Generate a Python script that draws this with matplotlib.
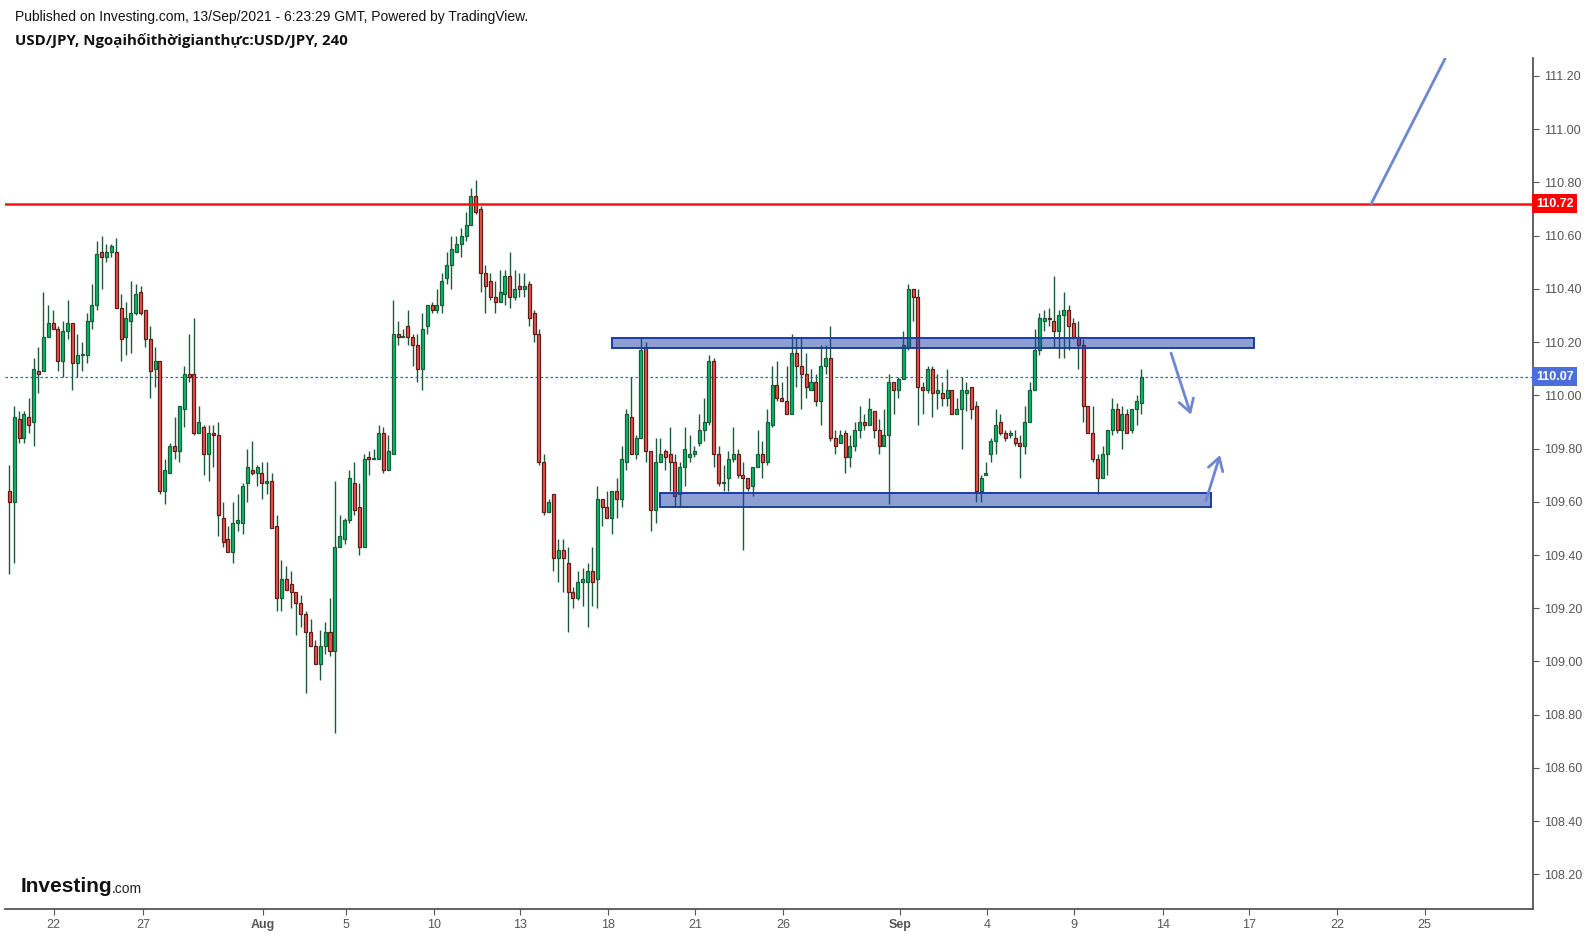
import numpy as np
import matplotlib
matplotlib.use("Agg")
import matplotlib.pyplot as plt
from matplotlib.patches import Rectangle
from matplotlib.transforms import blended_transform_factory

# USD/JPY 4h candles, bar index 0..233
opens = [109.64, 109.60, 109.91, 109.84, 109.92, 109.90, 110.09, 110.09, 110.22, 110.27,
         110.25, 110.13, 110.24, 110.27, 110.12, 110.15, 110.15, 110.28, 110.34, 110.54,
         110.52, 110.54, 110.54, 110.33, 110.22, 110.28, 110.31, 110.39, 110.32, 110.21,
         110.10, 110.13, 109.64, 109.71, 109.81, 109.79, 109.95, 110.08, 110.08, 109.86,
         109.88, 109.78, 109.86, 109.85, 109.54, 109.46, 109.41, 109.52, 109.52, 109.67,
         109.72, 109.71, 109.71, 109.67, 109.68, 109.51, 109.24, 109.31, 109.29, 109.26,
         109.22, 109.18, 109.11, 109.06, 108.99, 109.06, 109.11, 109.04, 109.43, 109.46,
         109.53, 109.67, 109.58, 109.43, 109.77, 109.76, 109.76, 109.86, 109.72, 109.78,
         110.23, 110.22, 110.26, 110.22, 110.19, 110.10, 110.26, 110.34, 110.32, 110.34,
         110.44, 110.49, 110.54, 110.57, 110.60, 110.64, 110.75, 110.70, 110.46, 110.43,
         110.37, 110.35, 110.38, 110.45, 110.37, 110.41, 110.40, 110.42, 110.31, 110.23,
         109.75, 109.56, 109.63, 109.39, 109.42, 109.37, 109.26, 109.24, 109.30, 109.30,
         109.34, 109.31, 109.61, 109.58, 109.54, 109.64, 109.61, 109.75, 109.92, 109.78,
         109.84, 110.18, 109.79, 109.57, 109.75, 109.79, 109.78, 109.75, 109.63, 109.73,
         109.77, 109.78, 109.82, 109.87, 109.90, 110.13, 109.78, 109.67, 109.69, 109.76,
         109.78, 109.70, 109.69, 109.66, 109.73, 109.78, 109.75, 109.89, 110.04, 109.99,
         109.98, 109.93, 110.16, 110.11, 110.08, 110.02, 110.05, 109.98, 110.11, 110.14,
         109.84, 109.82, 109.86, 109.77, 109.81, 109.87, 109.90, 109.89, 109.94, 109.87,
         109.81, 109.85, 110.05, 110.02, 110.06, 110.18, 110.40, 110.37, 110.03, 110.02,
         110.10, 110.01, 110.01, 109.99, 110.02, 109.93, 109.95, 110.01, 110.03, 109.96,
         109.64, 109.70, 109.78, 109.83, 109.90, 109.86, 109.85, 109.84, 109.82, 109.81,
         109.90, 110.02, 110.17, 110.28, 110.29, 110.28, 110.24, 110.30, 110.32, 110.27,
         110.22, 110.19, 109.96, 109.86, 109.76, 109.69, 109.78, 109.87, 109.95, 109.87,
         109.93, 109.87, 109.95, 109.97]
highs = [109.74, 109.96, 109.94, 109.94, 109.99, 110.14, 110.18, 110.39, 110.34, 110.32,
         110.26, 110.28, 110.36, 110.27, 110.23, 110.20, 110.31, 110.42, 110.58, 110.60,
         110.57, 110.57, 110.59, 110.38, 110.35, 110.43, 110.42, 110.41, 110.32, 110.26,
         110.18, 110.13, 109.76, 109.82, 109.92, 109.96, 110.11, 110.23, 110.29, 109.96,
         109.89, 109.89, 109.89, 109.90, 109.60, 109.51, 109.60, 109.63, 109.67, 109.80,
         109.83, 109.74, 109.75, 109.75, 109.71, 109.55, 109.38, 109.36, 109.34, 109.26,
         109.25, 109.19, 109.16, 109.08, 109.12, 109.15, 109.24, 109.68, 109.55, 109.54,
         109.72, 109.75, 109.67, 109.78, 109.79, 109.80, 109.89, 109.88, 109.85, 110.36,
         110.28, 110.25, 110.32, 110.23, 110.23, 110.31, 110.34, 110.35, 110.40, 110.46,
         110.54, 110.60, 110.60, 110.63, 110.69, 110.78, 110.81, 110.71, 110.49, 110.46,
         110.43, 110.47, 110.47, 110.54, 110.47, 110.46, 110.46, 110.43, 110.32, 110.25,
         109.78, 109.61, 109.63, 109.46, 109.46, 109.43, 109.28, 109.34, 109.35, 109.37,
         109.43, 109.66, 109.61, 109.64, 109.64, 109.69, 109.81, 109.95, 110.07, 109.85,
         110.22, 110.20, 109.79, 109.84, 109.84, 109.80, 109.88, 109.78, 109.75, 109.88,
         109.85, 109.81, 109.93, 109.99, 110.15, 110.14, 109.81, 109.74, 109.79, 109.88,
         109.80, 109.75, 109.69, 109.73, 109.87, 109.83, 109.95, 110.11, 110.13, 110.05,
         110.11, 110.23, 110.22, 110.22, 110.16, 110.10, 110.08, 110.19, 110.19, 110.26,
         109.87, 109.87, 109.87, 109.85, 109.90, 109.96, 109.93, 109.99, 109.94, 109.91,
         109.95, 110.08, 110.05, 110.07, 110.24, 110.42, 110.40, 110.40, 110.05, 110.11,
         110.11, 110.08, 110.05, 110.10, 110.02, 109.99, 110.07, 110.05, 110.03, 109.98,
         109.70, 109.75, 109.84, 109.95, 109.93, 109.87, 109.87, 109.87, 109.85, 109.96,
         110.05, 110.25, 110.31, 110.32, 110.33, 110.45, 110.32, 110.39, 110.34, 110.29,
         110.28, 110.21, 109.96, 109.96, 109.78, 109.81, 109.87, 109.99, 109.97, 109.96,
         109.95, 109.95, 110.00, 110.10]
lows = [109.33, 109.37, 109.82, 109.82, 109.86, 109.81, 110.01, 110.09, 110.22, 110.25,
        110.09, 110.07, 110.21, 110.02, 110.07, 110.09, 110.12, 110.25, 110.32, 110.40,
        110.50, 110.52, 110.33, 110.13, 110.15, 110.16, 110.30, 110.30, 110.18, 109.99,
        110.03, 109.63, 109.59, 109.71, 109.76, 109.75, 109.88, 110.05, 109.85, 109.86,
        109.70, 109.68, 109.73, 109.47, 109.43, 109.41, 109.37, 109.49, 109.48, 109.60,
        109.70, 109.66, 109.61, 109.63, 109.50, 109.19, 109.19, 109.27, 109.20, 109.10,
        109.13, 108.88, 109.06, 108.99, 108.93, 109.03, 109.02, 108.73, 109.43, 109.44,
        109.52, 109.55, 109.40, 109.43, 109.70, 109.76, 109.76, 109.71, 109.72, 109.78,
        110.19, 110.22, 110.19, 110.11, 110.05, 110.02, 110.23, 110.31, 110.31, 110.31,
        110.42, 110.40, 110.54, 110.52, 110.58, 110.64, 110.68, 110.39, 110.31, 110.36,
        110.31, 110.35, 110.34, 110.33, 110.36, 110.37, 110.37, 110.26, 110.20, 109.74,
        109.55, 109.56, 109.34, 109.30, 109.26, 109.11, 109.20, 109.23, 109.21, 109.13,
        109.21, 109.20, 109.51, 109.54, 109.48, 109.54, 109.58, 109.72, 109.78, 109.76,
        109.84, 109.75, 109.49, 109.52, 109.75, 109.72, 109.64, 109.58, 109.58, 109.66,
        109.75, 109.77, 109.81, 109.83, 109.89, 109.73, 109.66, 109.64, 109.64, 109.75,
        109.69, 109.42, 109.64, 109.62, 109.73, 109.69, 109.74, 109.88, 109.98, 109.98,
        109.93, 109.93, 110.03, 109.95, 109.99, 110.02, 109.96, 109.89, 110.08, 109.83,
        109.78, 109.82, 109.71, 109.73, 109.79, 109.84, 109.87, 109.89, 109.84, 109.78,
        109.81, 109.59, 109.93, 109.99, 110.06, 110.17, 110.28, 109.89, 109.93, 110.01,
        109.92, 109.95, 109.96, 109.96, 109.93, 109.93, 109.80, 109.94, 109.91, 109.60,
        109.60, 109.70, 109.75, 109.78, 109.85, 109.83, 109.84, 109.81, 109.69, 109.78,
        109.90, 110.02, 110.15, 110.24, 110.26, 110.18, 110.14, 110.14, 110.17, 110.21,
        110.10, 109.90, 109.86, 109.75, 109.63, 109.69, 109.70, 109.85, 109.86, 109.80,
        109.86, 109.86, 109.89, 109.93]
closes = [109.60, 109.92, 109.84, 109.93, 109.89, 110.10, 110.08, 110.22, 110.27, 110.25,
          110.13, 110.24, 110.27, 110.12, 110.15, 110.152, 110.28, 110.34, 110.53, 110.52,
          110.54, 110.56, 110.33, 110.21, 110.29, 110.31, 110.38, 110.31, 110.21, 110.09,
          110.13, 109.64, 109.72, 109.81, 109.79, 109.96, 110.08, 110.07, 109.86, 109.90,
          109.78, 109.86, 109.85, 109.55, 109.45, 109.41, 109.52, 109.53, 109.66, 109.73,
          109.71, 109.73, 109.67, 109.68, 109.50, 109.24, 109.31, 109.27, 109.26, 109.22,
          109.18, 109.11, 109.06, 108.99, 109.06, 109.11, 109.04, 109.43, 109.47, 109.53,
          109.69, 109.57, 109.43, 109.76, 109.76, 109.762, 109.86, 109.72, 109.79, 110.23,
          110.22, 110.222, 110.22, 110.19, 110.10, 110.25, 110.34, 110.32, 110.34, 110.43,
          110.49, 110.55, 110.57, 110.60, 110.64, 110.75, 110.69, 110.46, 110.41, 110.37,
          110.35, 110.39, 110.45, 110.37, 110.40, 110.40, 110.41, 110.29, 110.23, 109.75,
          109.56, 109.60, 109.39, 109.42, 109.39, 109.26, 109.24, 109.30, 109.31, 109.34,
          109.30, 109.61, 109.58, 109.54, 109.64, 109.61, 109.76, 109.93, 109.78, 109.84,
          110.17, 109.79, 109.57, 109.75, 109.78, 109.77, 109.75, 109.62, 109.73, 109.80,
          109.78, 109.79, 109.87, 109.90, 110.13, 109.78, 109.67, 109.672, 109.76, 109.78,
          109.70, 109.69, 109.65, 109.73, 109.78, 109.75, 109.90, 110.04, 109.99, 109.98,
          109.93, 110.16, 110.11, 110.08, 110.03, 110.05, 109.98, 110.11, 110.14, 109.84,
          109.81, 109.85, 109.77, 109.81, 109.87, 109.90, 109.89, 109.95, 109.87, 109.81,
          109.85, 110.05, 110.02, 110.06, 110.19, 110.40, 110.37, 110.03, 110.02, 110.10,
          110.01, 110.02, 109.99, 110.02, 109.93, 109.95, 110.02, 110.02, 109.95, 109.64,
          109.69, 109.71, 109.83, 109.89, 109.86, 109.84, 109.86, 109.82, 109.81, 109.90,
          110.02, 110.17, 110.29, 110.29, 110.285, 110.24, 110.30, 110.32, 110.26, 110.22,
          110.19, 109.96, 109.86, 109.76, 109.69, 109.78, 109.87, 109.95, 109.87, 109.93,
          109.86, 109.95, 109.98, 110.07]

# date ticks (bar-index positions) and price ticks
tick_pos = [9.1, 27.5, 52.2, 69.2, 87.4, 105.2, 123.3, 141.1, 159.2, 183.3, 201.2,
            219.2, 237.4, 255.1, 273.3, 291.3]
tick_labels = ['22', '27', 'Aug', '5', '10', '13', '18', '21', '26', 'Sep', '4',
               '9', '14', '17', '22', '25']
price_ticks = np.arange(108.2, 111.21, 0.2)

# drawings
resistance = 110.72
last_price = 110.07
upper_zone = (124.1, 256.1, 110.177, 110.214)   # x0, x1, y0, y1
lower_zone = (134.0, 247.3, 109.580, 109.632)
down_arrow = ((239.1, 110.159), (243.2, 109.927))
up_arrow = ((246.3, 109.605), (249.2, 109.776))
trend_line = ((280.3, 110.72), (295.5, 111.265))

W, H = 1585, 934
fig = plt.figure(figsize=(W / 100, H / 100), dpi=100)
ax = fig.add_axes([5 / W, 25 / H, (1533 - 5) / W, (909 - 57.6) / H])

o = np.array(opens)
h = np.array(highs)
l = np.array(lows)
c = np.array(closes)
x = np.arange(len(o))
up = c >= o

wick_col = '#1d5a3a'
ax.vlines(x, l, h, color=wick_col, linewidth=1.0, zorder=2)
bottom = np.minimum(o, c)
height = np.maximum(np.abs(c - o), 0.004)
ax.bar(x[up], height[up], bottom=bottom[up], width=0.62, color='#00c06a',
       edgecolor='#1d5a3a', linewidth=0.9, zorder=3)
ax.bar(x[~up], height[~up], bottom=bottom[~up], width=0.62, color='#f0524a',
       edgecolor='#5e1d18', linewidth=0.9, zorder=3)

# horizontal lines
ax.axhline(resistance, color='#ff1010', linewidth=1.8, zorder=4)
ax.axhline(last_price, color='#3a5fd0', linewidth=0.9, linestyle=(0, (2, 2)), zorder=1)

# zones
for x0, x1, y0, y1 in [upper_zone, lower_zone]:
    ax.add_patch(Rectangle((x0, y0), x1 - x0, y1 - y0, facecolor=(0.12, 0.25, 0.68, 0.5),
                           edgecolor='#1a3ea0', linewidth=1.4, zorder=5))

arrow_col = '#6d88d0'
for start, end in [down_arrow, up_arrow]:
    ax.annotate('', xy=end, xytext=start,
                arrowprops=dict(arrowstyle='->,head_length=0.5,head_width=0.3', color=arrow_col,
                                lw=2, mutation_scale=18, shrinkA=0, shrinkB=0), zorder=6)
ax.plot([trend_line[0][0], trend_line[1][0]], [trend_line[0][1], trend_line[1][1]],
        color=arrow_col, linewidth=2, zorder=6, solid_capstyle='round')

ax.set_xlim(-0.89, 313.6)
ax.set_ylim(108.07, 111.269)

# axes styling
for s in ['top', 'left']:
    ax.spines[s].set_visible(False)
for s in ['bottom', 'right']:
    ax.spines[s].set_color('#555555')
    ax.spines[s].set_linewidth(1.3)
ax.yaxis.tick_right()
ax.set_yticks(price_ticks)
ax.set_yticklabels(['%.2f' % p for p in price_ticks])
ax.set_xticks(tick_pos)
ax.set_xticklabels(tick_labels)
ax.tick_params(axis='y', length=4, color='#555555', labelcolor='#555555', labelsize=9,
               pad=4)
ax.tick_params(axis='x', length=4, color='#555555', labelcolor='#555555', labelsize=9,
               pad=3)
for t in ax.get_xticklabels():
    t.set_fontfamily('Liberation Sans')
    if t.get_text() in ('Aug', 'Sep'):
        t.set_fontweight('bold')
for t in ax.get_yticklabels():
    t.set_fontfamily('Liberation Sans')

# price labels on the axis
trans = blended_transform_factory(ax.transAxes, ax.transData)
ax.text(1.002, resistance, '110.72', transform=trans, ha='left', va='center', color='white',
        fontsize=9, fontweight='bold', family='Liberation Sans',
        bbox=dict(boxstyle='square,pad=0.3', facecolor='#ff0000', edgecolor='none'))
ax.text(1.002, last_price, '110.07', transform=trans, ha='left', va='center', color='white',
        fontsize=9, fontweight='bold', family='Liberation Sans',
        bbox=dict(boxstyle='square,pad=0.3', facecolor='#4a6fdc', edgecolor='none'))

# header
fig.text(15 / W, 1 - 17 / H, 'Published on Investing.com, 13/Sep/2021 - 6:23:29 GMT, Powered by TradingView.',
         ha='left', va='center', fontsize=10, family='Liberation Sans', color='#111111')
fig.text(15 / W, 1 - 40 / H, 'USD/JPY, Ngoạihốithờigianthực:USD/JPY, 240',
         ha='left', va='center', fontsize=10.8, fontweight='bold', family='Open Sans',
         color='#111111')

# logo
fig.text(21 / W, 1 - 886 / H, 'Investing', ha='left', va='center', fontsize=15,
         fontweight='bold', family=['Liberation Sans Narrow', 'Liberation Sans'],
         color='#111111')
fig.text(112 / W, 1 - 889 / H, '.com', ha='left', va='center', fontsize=10,
         family=['Liberation Sans Narrow', 'Liberation Sans'], color='#222222')

fig.savefig('out.png', dpi=100)
